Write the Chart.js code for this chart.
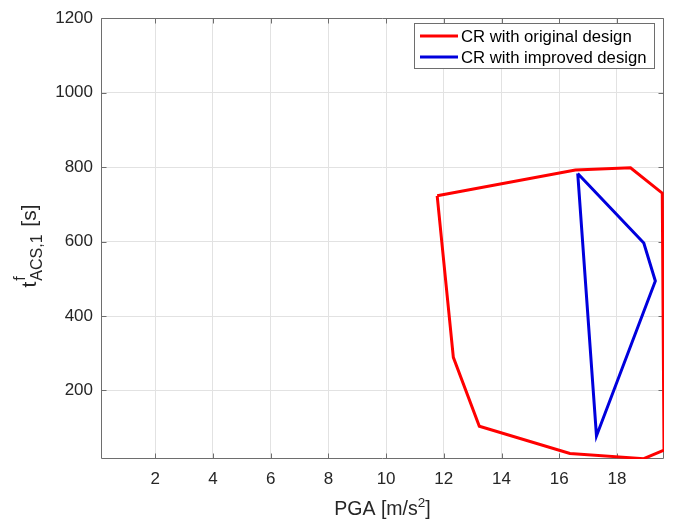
<!DOCTYPE html>
<html>
<head>
<meta charset="utf-8">
<script src="https://cdn.jsdelivr.net/npm/chart.js@4.4.1/dist/chart.umd.min.js"></script>
<style>
  html, body { margin: 0; padding: 0; background: #ffffff; }
  #c { display: block; }
</style>
</head>
<body>
<canvas id="c" width="675" height="522"></canvas>
<script>
// ---- Data ----
const seriesNames = ['CR with original design', 'CR with improved design'];
const originalPGA = [11.77, 16.56, 18.47, 19.57, 19.63, 18.93, 16.37, 13.23, 12.33, 11.77];
const originalT   = [723, 792, 798, 730, 40, 17, 31, 104, 289, 723];
const improvedPGA = [16.64, 18.93, 19.33, 17.29, 16.64];
const improvedT   = [783, 596, 494, 78, 783];
const xTickValues = [2, 4, 6, 8, 10, 12, 14, 16, 18];
const yTickValues = [200, 400, 600, 800, 1000, 1200];

const FONT = "'Liberation Sans', Arial, Helvetica, sans-serif";
const TEXT = '#262626';
const FRAME = '#6e6e6e';

function toPoints(xs, ys) { return xs.map((x, i) => ({ x: x, y: ys[i] })); }

const framePlugin = {
  id: 'frame',
  beforeDatasetsDraw(chart) {
    const { ctx, chartArea: a, scales } = chart;
    ctx.save();
    ctx.strokeStyle = FRAME;
    ctx.lineWidth = 1;
    ctx.beginPath();
    const L = Math.round(a.left) + 0.5, R = Math.round(a.right) - 0.5;
    const T = Math.round(a.top) + 0.5, B = Math.round(a.bottom) - 0.5;
    ctx.rect(L, T, R - L, B - T);
    const tl = 5;
    xTickValues.forEach(v => {
      const px = Math.round(scales.x.getPixelForValue(v)) + 0.5;
      ctx.moveTo(px, B); ctx.lineTo(px, B - tl);
      ctx.moveTo(px, T); ctx.lineTo(px, T + tl);
    });
    yTickValues.forEach(v => {
      const py = Math.round(scales.y.getPixelForValue(v)) + 0.5;
      ctx.moveTo(L, py); ctx.lineTo(L + tl, py);
      ctx.moveTo(R, py); ctx.lineTo(R - tl, py);
    });
    ctx.stroke();
    ctx.restore();
  },
  afterDraw(chart) {
    const { ctx, chartArea: a } = chart;
    ctx.save();
    // ---- X axis title: PGA [m/s^2] ----
    const big = 19.5, small = 13.5;
    ctx.fillStyle = TEXT;
    ctx.textBaseline = 'alphabetic';
    ctx.textAlign = 'left';
    ctx.font = big + 'px ' + FONT;
    const p1 = 'PGA [m/s', p3 = ']';
    const w1 = ctx.measureText(p1).width, w3 = ctx.measureText(p3).width;
    ctx.font = small + 'px ' + FONT;
    const w2 = ctx.measureText('2').width;
    const totalX = w1 + w2 + w3;
    const cx = (a.left + a.right) / 2;
    let x0 = cx - totalX / 2;
    const by = 515;
    ctx.font = big + 'px ' + FONT;
    ctx.fillText(p1, x0, by);
    ctx.font = small + 'px ' + FONT;
    ctx.fillText('2', x0 + w1, by - 8);
    ctx.font = big + 'px ' + FONT;
    ctx.fillText(p3, x0 + w1 + w2, by);

    // ---- Y axis title: t^f_{ACS,1} [s] ----
    const ybig = 21, ysmall = 16;
    ctx.save();
    ctx.translate(36, 246);
    ctx.rotate(-Math.PI / 2);
    ctx.font = ybig + 'px ' + FONT;
    const wt = ctx.measureText('t').width;
    const wsx = ctx.measureText(' [s]').width;
    ctx.font = ysmall + 'px ' + FONT;
    const wf = ctx.measureText('f').width;
    const wsub = ctx.measureText('ACS,1').width;
    const wmid = Math.max(wf, wsub) + 2;
    const tot = wt + 1 + wmid + wsx;
    let sx = -tot / 2;
    ctx.font = ybig + 'px ' + FONT;
    ctx.fillText('t', sx, 0);
    ctx.font = ysmall + 'px ' + FONT;
    ctx.fillText('f', sx + wt + 1, -11);
    ctx.fillText('ACS,1', sx + wt + 1, 6);
    ctx.font = ybig + 'px ' + FONT;
    ctx.fillText(' [s]', sx + wt + 1 + wmid, 0);
    ctx.restore();

    // ---- Legend ----
    const bx = 414.5, byy = 23.5, bw = 240, bh = 45;
    ctx.fillStyle = '#ffffff';
    ctx.fillRect(bx, byy, bw, bh);
    ctx.strokeStyle = FRAME;
    ctx.lineWidth = 1;
    ctx.strokeRect(bx, byy, bw, bh);
    const colors = ['#ff0000', '#0000dd'];
    const rows = [36, 57];
    ctx.font = '16.7px ' + FONT;
    ctx.textBaseline = 'middle';
    seriesNames.forEach((name, i) => {
      ctx.strokeStyle = colors[i];
      ctx.lineWidth = 3;
      ctx.beginPath();
      ctx.moveTo(420, rows[i]);
      ctx.lineTo(458, rows[i]);
      ctx.stroke();
      ctx.fillStyle = '#000000';
      ctx.fillText(name, 461, rows[i] + 1);
    });
    ctx.restore();
  }
};

new Chart(document.getElementById('c'), {
  type: 'scatter',
  data: {
    datasets: [
      {
        label: seriesNames[0],
        data: toPoints(originalPGA, originalT),
        showLine: true,
        borderColor: '#ff0000',
        backgroundColor: '#ff0000',
        borderWidth: 3,
        pointRadius: 0,
        tension: 0,
        fill: false
      },
      {
        label: seriesNames[1],
        data: toPoints(improvedPGA, improvedT),
        showLine: true,
        borderColor: '#0000dd',
        backgroundColor: '#0000dd',
        borderWidth: 3,
        pointRadius: 0,
        tension: 0,
        fill: false
      }
    ]
  },
  options: {
    responsive: false,
    animation: false,
    devicePixelRatio: 1,
    layout: { padding: { left: 0, right: 11, top: 15, bottom: 0 } },
    plugins: { legend: { display: false }, tooltip: { enabled: false } },
    scales: {
      x: {
        type: 'linear',
        min: 0.12,
        max: 19.63,
        afterBuildTicks: s => { s.ticks = xTickValues.map(v => ({ value: v })); },
        afterFit: s => { s.height = 63; },
        grid: { color: '#e2e2e2', lineWidth: 1, drawTicks: false },
        border: { display: false },
        ticks: { font: { family: FONT, size: 17 }, color: TEXT, padding: 10, maxRotation: 0, autoSkip: false, callback: v => String(v) }
      },
      y: {
        type: 'linear',
        min: 16,
        max: 1200,
        afterBuildTicks: s => { s.ticks = yTickValues.map(v => ({ value: v })); },
        afterFit: s => { s.width = 101; },
        grid: { color: '#e2e2e2', lineWidth: 1, drawTicks: false },
        border: { display: false },
        ticks: { font: { family: FONT, size: 17 }, color: TEXT, padding: 8, autoSkip: false, callback: v => String(v) }
      }
    }
  },
  plugins: [framePlugin]
});
</script>
</body>
</html>
